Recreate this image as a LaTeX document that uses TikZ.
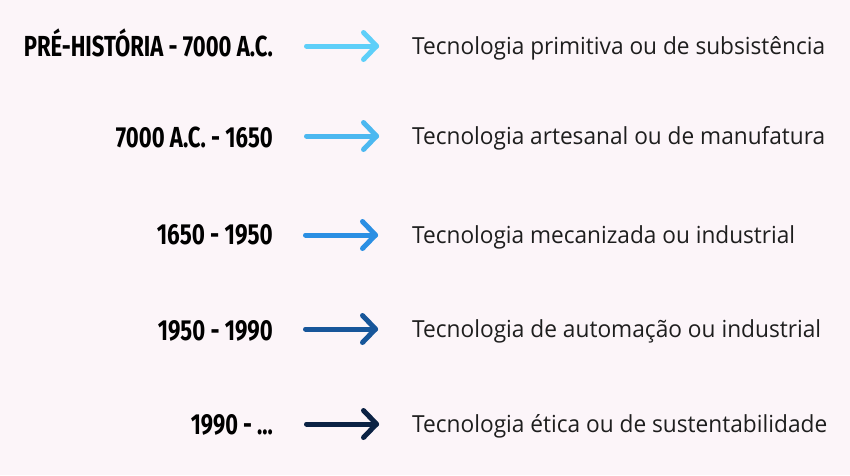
\documentclass[tikz,border=0pt]{standalone}
\usepackage{fontspec}
\setmainfont{Open Sans}
\newfontfamily\labfont{Fira Sans}
\usetikzlibrary{calc}
\definecolor{bg}{HTML}{FCF5F9}
\definecolor{txt}{HTML}{1E1E1E}
\definecolor{ca}{HTML}{5ECFF9}
\definecolor{cb}{HTML}{4CB8F0}
\definecolor{cc}{HTML}{2B8FE3}
\definecolor{cd}{HTML}{17569A}
\definecolor{ce}{HTML}{0B2244}
\tikzset{
  lab/.style={anchor=base east, inner sep=0pt, font=\labfont\bfseries\fontsize{29}{32}\selectfont, text=black},
  desc/.style={anchor=base west, inner sep=0pt, font=\fontsize{23.5}{26}\selectfont, text=txt},
  arr/.style={line width=5pt, line cap=round, line join=round}
}
\begin{document}
\begin{tikzpicture}[x=1pt,y=-1pt]
\fill[bg] (0,0) rectangle (850,475);
\useasboundingbox (0,0) rectangle (850,475);

% row 1
\node[lab] (l1) at (273,56.5) {\resizebox{249pt}{\height}{PRÉ-HISTÓRIA - 7000 A.C.}};
\node[desc] (r1) at (412,54.5) {\resizebox{413pt}{\height}{Tecnologia primitiva ou de subsistência}};
\coordinate (s1) at (306.5,46);
\coordinate (e1) at (376.5,46);
\draw[arr,ca] (s1) -- (e1);
\draw[arr,ca] ($(e1)+(-13,-13.5)$) -- (e1) -- ($(e1)+(-13,13.5)$);

% row 2
\node[lab] (l2) at (273,147) {\resizebox{157pt}{\height}{7000 A.C. - 1650}};
\node[desc] (r2) at (412,144.5) {\resizebox{413pt}{\height}{Tecnologia artesanal ou de manufatura}};
\coordinate (s2) at (306.5,136);
\coordinate (e2) at (376.5,136);
\draw[arr,cb] (s2) -- (e2);
\draw[arr,cb] ($(e2)+(-13,-13.5)$) -- (e2) -- ($(e2)+(-13,13.5)$);

% row 3
\node[lab] (l3) at (273,244.5) {\resizebox{116pt}{\height}{1650 - 1950}};
\node[desc] (r3) at (412,243.5) {\resizebox{383pt}{\height}{Tecnologia mecanizada ou industrial}};
\coordinate (s3) at (305.5,235);
\coordinate (e3) at (375.5,235);
\draw[arr,cc] (s3) -- (e3);
\draw[arr,cc] ($(e3)+(-13,-13.5)$) -- (e3) -- ($(e3)+(-13,13.5)$);

% row 4
\node[lab] (l4) at (273,340.5) {\resizebox{115pt}{\height}{1950 - 1990}};
\node[desc] (r4) at (412,337.5) {\resizebox{409pt}{\height}{Tecnologia de automação ou industrial}};
\coordinate (s4) at (305.5,329);
\coordinate (e4) at (375.5,329);
\draw[arr,cd] (s4) -- (e4);
\draw[arr,cd] ($(e4)+(-13,-13.5)$) -- (e4) -- ($(e4)+(-13,13.5)$);

% row 5
\node[lab] (l5) at (273,434.5) {\resizebox{82pt}{\height}{1990 - ...}};
\node[desc] (r5) at (412,432.5) {\resizebox{415pt}{\height}{Tecnologia ética ou de sustentabilidade}};
\coordinate (s5) at (306.5,424);
\coordinate (e5) at (376.5,424);
\draw[arr,ce] (s5) -- (e5);
\draw[arr,ce] ($(e5)+(-13,-13.5)$) -- (e5) -- ($(e5)+(-13,13.5)$);
\end{tikzpicture}
\end{document}
